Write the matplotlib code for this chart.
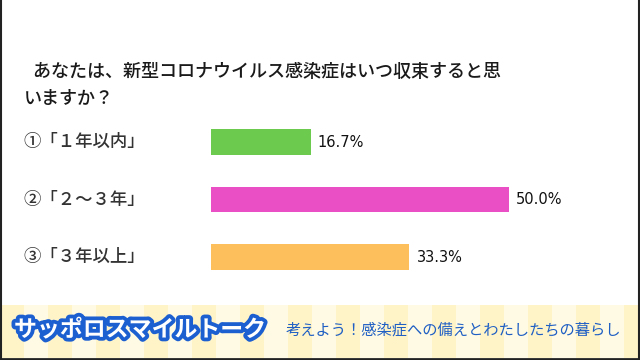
import matplotlib
matplotlib.use("Agg")
import matplotlib.pyplot as plt
import matplotlib.patheffects as pe
from matplotlib.patches import Rectangle

plt.rcParams["font.family"] = ["Noto Sans CJK JP", "DejaVu Sans"]

# Données
categories = ["①「１年以内」", "②「２～３年」", "③「３年以上」"]
valeurs = [16.7, 50.0, 33.3]
couleurs = ["#6ccb4f", "#ea4fc6", "#fdbf5c"]
titre = "\u2002あなたは、新型コロナウイルス感染症はいつ収束すると思\nいますか？"
banniere = "サッポロスマイルトーク"
sous_titre = "考えよう！感染症への備えとわたしたちの暮らし"

W, H = 640, 360
fig = plt.figure(figsize=(W / 100, H / 100), dpi=100)

# Fond en coordonnées pixels
bg = fig.add_axes([0, 0, 1, 1])
bg.set_xlim(0, W)
bg.set_ylim(H, 0)
bg.axis("off")

# Bandeau jaune rayé en bas
y0, y1 = 305, 358
rayure = 24
for i, x in enumerate(range(0, W, rayure)):
    c = "#fff4c8" if i % 2 == 0 else "#fffae3"
    bg.add_patch(Rectangle((x, y0), rayure, y1 - y0, color=c, lw=0))
# Cadre
bg.plot([0.5, 0.5], [0, H], color="#222222", lw=1.5)
bg.plot([W - 1.5, W - 1.5], [0, H], color="#222222", lw=1.5)
bg.plot([0, W], [H - 1, H - 1], color="#222222", lw=2)

bg.text(24, 63, titre, fontsize=13, fontweight="medium", color="#1a1a1a",
        va="top", linespacing=1.62)

bg.text(14, 330, banniere, fontsize=16.5, fontweight="bold", color="white",
        va="center", ha="left",
        path_effects=[pe.withStroke(linewidth=5.5, foreground="#1c5fd1")])
bg.text(286, 330, sous_titre, fontsize=11, color="#1f5fc4",
        va="center", ha="left")

# Barres
ax = fig.add_axes([211 / W, (H - 280) / H, 298 / W, 160 / H])
ypos = list(range(len(categories)))
ax.barh(ypos, valeurs, height=0.45, color=couleurs)
ax.set_xlim(0, 50)
ax.set_ylim(2.4, -0.383)
ax.axis("off")

for y, v, lab in zip(ypos, valeurs, categories):
    ax.text(v + 1.2, y, f"{v:.1f}%", fontsize=10.5, color="#111111",
            va="center", ha="left", family=["DejaVu Sans"])
    ax.text(-0.63, y, lab, fontsize=12.5, fontweight="medium", color="#333333",
            va="center", ha="left", transform=ax.get_yaxis_transform())

fig.savefig("out.png", dpi=100)
